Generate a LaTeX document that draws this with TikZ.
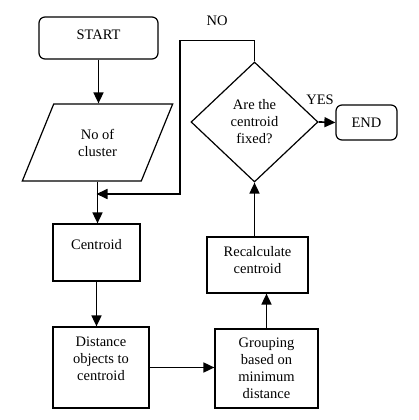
\documentclass[tikz,border=0pt]{standalone}
\usepackage{fontspec}
\setmainfont{Liberation Serif}
\usepackage{tikz}
\usetikzlibrary{shapes,arrows,positioning,calc,arrows.meta}

\begin{document}
\begin{tikzpicture}[x=1pt,y=1pt,
    font=\fontsize{14.5}{17}\selectfont,
    box/.style={draw,line width=1.2pt,align=center,inner sep=2pt},
    term/.style={box,rounded corners=6pt},
    arr/.style={line width=1.7pt,-{Triangle[length=11pt,width=10pt]}}]
    \useasboundingbox (0,0) rectangle (418,420);

    % Left column
    \node[term,minimum width=119,minimum height=42,text depth=6pt] (start) at (98.5,382) {START};
    \node[box,trapezium,trapezium left angle=64,trapezium right angle=116,
          trapezium stretches=true,minimum width=151,minimum height=77] (cluster) at (97.5,277.5) {No of\\cluster};
    \node[box,minimum width=87,minimum height=57] (centroid) at (96.5,167.5) {Centroid\\\mbox{}};
    \node[box,minimum width=96,minimum height=81] (distance) at (101,52.5) {Distance\\objects to\\centroid\\\mbox{}};

    % Right column
    \node[box,minimum width=103,minimum height=79] (grouping) at (266.5,51.5) {Grouping\\based on\\minimum\\distance};
    \node[box,minimum width=101,minimum height=56,text depth=10pt] (recalc) at (257.5,155) {Recalculate\\centroid};
    \node[box,diamond,aspect=1.06,minimum width=127,minimum height=120,inner sep=0pt] (fixed) at (254.5,298) {Are the\\centroid\\fixed?};
    \node[term,minimum width=61,minimum height=35] (end) at (366.5,297.5) {END};

    % Connectors
    \coordinate (merge) at (96.5,226);
    \draw[arr] (start.south) -- (start.south |- cluster.north);
    \draw[arr] (cluster.south) -- (cluster.south |- centroid.north);
    \draw[arr] (centroid.south) -- (centroid.south |- distance.north);
    \draw[arr] (distance.east) -- (distance.east -| grouping.west);
    \draw[arr] (grouping.north) -- (grouping.north |- recalc.south);
    \draw[arr] (recalc.north -| fixed.south) -- (fixed.south);
    \draw[arr] (fixed.east) -- (end.west);
    \draw[arr] (fixed.north) -- ++(0,21) -| (180,226) -- (merge);

    % Labels
    \node (no) at (217,399) {NO};
    \node (yes) at (320,320) {YES};
\end{tikzpicture}
\end{document}
